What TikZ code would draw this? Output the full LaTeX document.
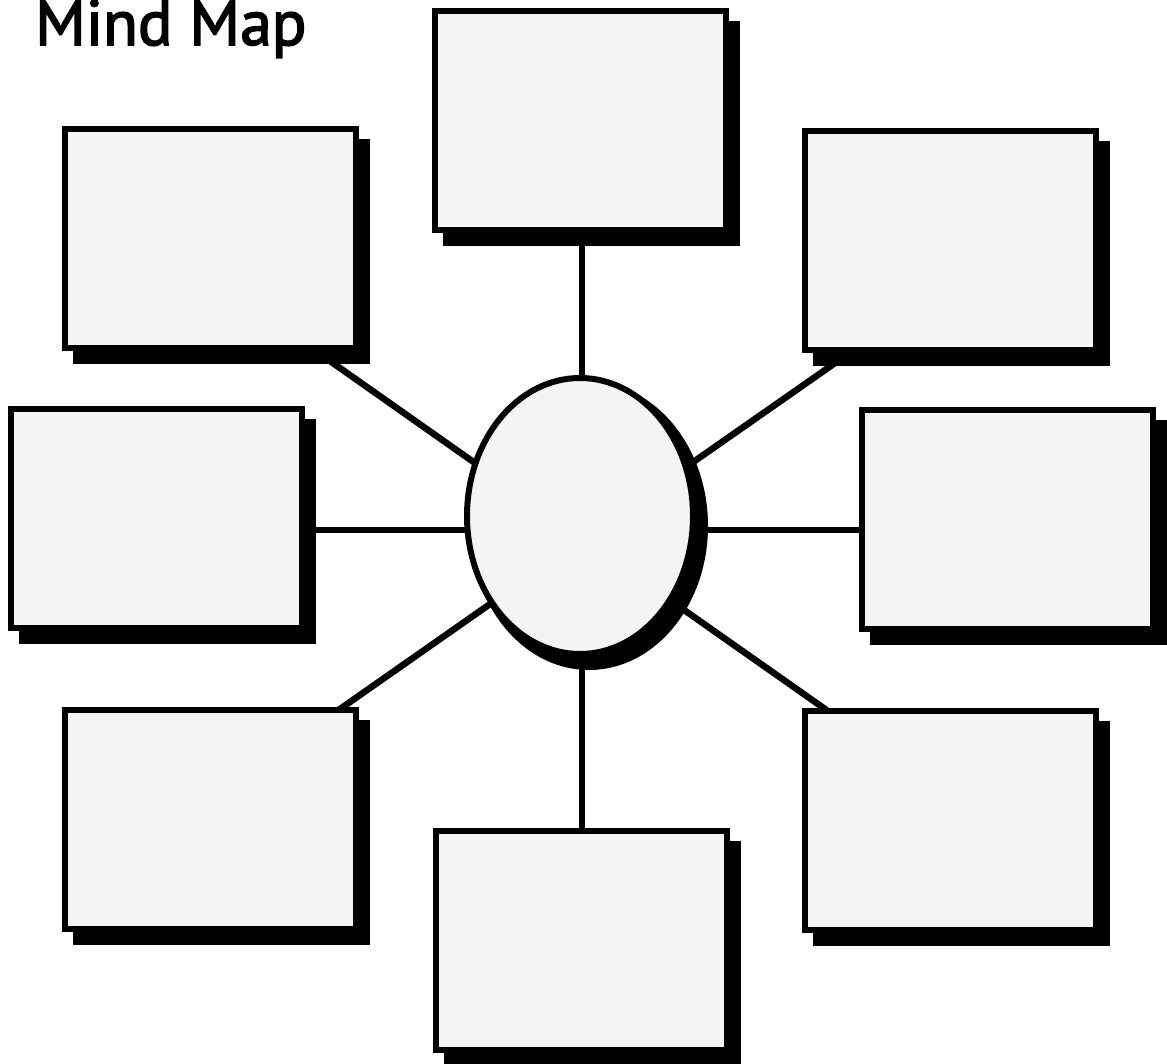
\documentclass[tikz,border=0pt]{standalone}
\usepackage{fontspec}
\setmainfont{PT Sans}
\newfontfamily\titlefont[FakeBold=2.5]{PT Sans}
\usetikzlibrary{shapes.geometric,calc}
\pgfdeclarelayer{bg}
\pgfsetlayers{bg,main}
\definecolor{boxfill}{HTML}{F4F4F4}
\begin{document}
\begin{tikzpicture}[x=1pt,y=-1pt,
  box/.style={draw=black,line width=6pt,fill=boxfill,minimum width=291pt,minimum height=219pt,inner sep=0pt,outer sep=0pt},
  hubell/.style={ellipse,minimum width=226pt,minimum height=276pt,inner sep=0pt,outer sep=0pt},
  ellline/.style={draw=black,line width=6pt,fill=boxfill},
  conn/.style={line width=6.5pt},
  shade/.style={fill=black}]
\useasboundingbox (0,0) rectangle (1167,1064);
\node[anchor=base west,inner sep=0pt,font=\titlefont\fontsize{64}{76}\selectfont] (title) at (35,45) {Mind Map};
\node[box] (t)  at (580.5,120.5) {};
\node[box] (b)  at (581.5,940) {};
\node[box] (l)  at (156,518.5) {};
\node[box] (r)  at (1007.5,519.5) {};
\node[box] (tl) at (210.5,239) {};
\node[box] (tr) at (950.5,240.5) {};
\node[box] (bl) at (210.5,819.5) {};
\node[box] (br) at (950.5,820.5) {};
\node[hubell] (c) at (580,516) {};
\coordinate (hub) at (583,539);
\coordinate (pT) at (582,240);
\coordinate (pB) at (582,835);
\coordinate (pL) at (300,530);
\coordinate (pR) at (865,530);
\coordinate (pTL) at (320,354);
\coordinate (pTR) at (848,354);
\coordinate (pBL) at (330,716);
\coordinate (pBR) at (835,716);
\begin{pgfonlayer}{bg}
  \draw[conn] (c.center -| pT) -- (pT);
  \draw[conn] (c.center -| pB) -- (pB);
  \draw[conn] (c.center |- pL) -- (pL);
  \draw[conn] (c.center |- pR) -- (pR);
  \draw[conn] (hub) -- (pTL);
  \draw[conn] (hub) -- (pTR);
  \draw[conn] (hub) -- (pBL);
  \draw[conn] (hub) -- (pBR);
  \foreach \n in {t,b,l,r,tl,tr,bl,br}
    \fill[shade] ([shift={(8,10)}]\n.north west) rectangle ([shift={(14,16)}]\n.south east);
  \fill[shade] ([shift={(9,10)}]c.center) ellipse [x radius=119pt, y radius=144pt];
\end{pgfonlayer}
\draw[ellline] (c.center) ellipse [x radius=113pt, y radius=138pt];
\end{tikzpicture}
\end{document}
